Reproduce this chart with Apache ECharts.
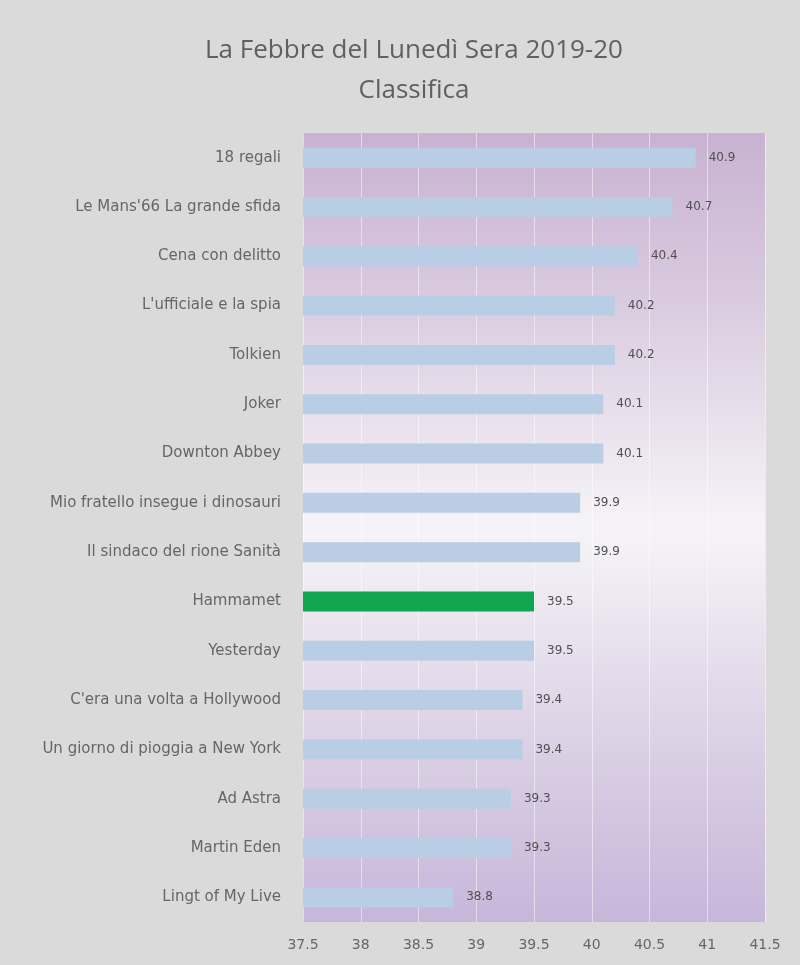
<!DOCTYPE html>
<html>
<head>
<meta charset="utf-8">
<script src="https://cdn.jsdelivr.net/npm/echarts@6/dist/echarts.min.js"></script>
<style>
html,body{margin:0;padding:0;background:#e8e8e8;}
#c{width:800px;height:965px;}
</style>
</head>
<body>
<div id="c"></div>
<script>
const categories = [
  "18 regali",
  "Le Mans'66 La grande sfida",
  "Cena con delitto",
  "L'ufficiale e la spia",
  "Tolkien",
  "Joker",
  "Downton Abbey",
  "Mio fratello insegue i dinosauri",
  "Il sindaco del rione Sanità",
  "Hammamet",
  "Yesterday",
  "C'era una volta a Hollywood",
  "Un giorno di pioggia a New York",
  "Ad Astra",
  "Martin Eden",
  "Lingt of My Live"
];
const values = [40.9, 40.7, 40.4, 40.2, 40.2, 40.1, 40.1, 39.9, 39.9, 39.5, 39.5, 39.4, 39.4, 39.3, 39.3, 38.8];
const highlight = "Hammamet";
const axisMin = 37.5, axisMax = 41.5, axisStep = 0.5;

const chart = echarts.init(document.getElementById('c'), null, {renderer: 'canvas'});
const data = categories.map((c, i) => ({
  value: values[i],
  itemStyle: { color: c === highlight ? '#12a550' : '#b9cde5' }
}));
chart.setOption({
  backgroundColor: '#dadada',
  title: {
    text: 'La Febbre del Lunedì Sera 2019-20\nClassifica',
    left: 409,
    textAlign: 'center',
    top: 26,
    textStyle: { fontFamily: 'Open Sans', fontWeight: 'normal', fontSize: 26, color: '#606060', lineHeight: 40 }
  },
  grid: {
    left: 303, right: 35, top: 133, bottom: 43,
    show: true,
    borderWidth: 0,
    backgroundColor: new echarts.graphic.LinearGradient(0, 0, 0, 1, [
      { offset: 0, color: '#c8b2d2' },
      { offset: 0.2, color: '#d8c9de' },
      { offset: 0.5, color: '#f6f4f8' },
      { offset: 0.8, color: '#d9cde3' },
      { offset: 1, color: '#c7b6da' }
    ])
  },
  xAxis: {
    type: 'value',
    min: axisMin, max: axisMax, interval: axisStep,
    axisLine: { show: false },
    axisTick: { show: false },
    axisLabel: { color: '#666666', fontSize: 14, fontFamily: 'DejaVu Sans', margin: 16 },
    splitLine: { show: true, lineStyle: { color: 'rgba(255,255,255,0.5)', width: 1 } }
  },
  yAxis: {
    type: 'category',
    data: categories,
    inverse: true,
    axisLine: { show: false },
    axisTick: { show: false },
    axisLabel: { color: '#666666', fontSize: 15, fontFamily: 'DejaVu Sans', margin: 22 }
  },
  series: [{
    type: 'bar',
    data: data,
    barWidth: 20,
    label: {
      show: true,
      position: 'right',
      distance: 13,
      color: '#505050',
      fontSize: 12,
      fontFamily: 'DejaVu Sans',
      formatter: p => p.value.toFixed(1)
    }
  }]
});
</script>
</body>
</html>
